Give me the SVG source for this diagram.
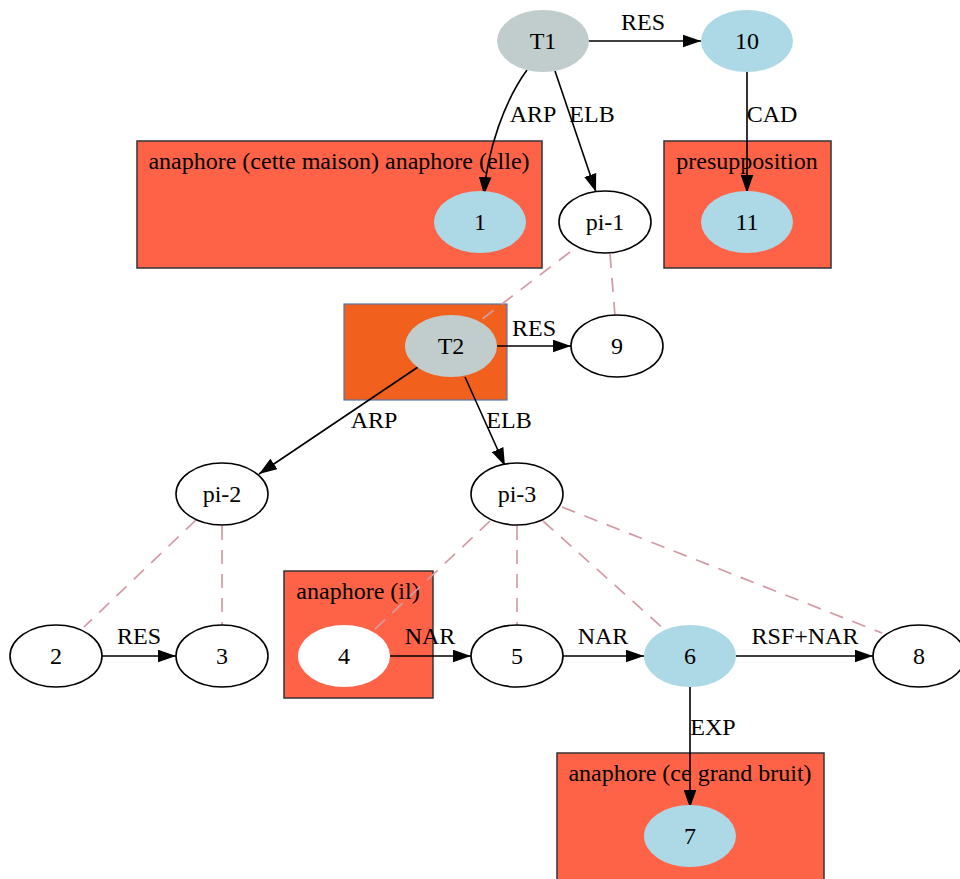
<svg xmlns="http://www.w3.org/2000/svg" width="960" height="879" viewBox="0 0 960 879">
<style>
text{font-family:"Liberation Serif","Times New Roman",serif;font-size:24px;fill:#000;text-anchor:middle}
.cl{fill:#ff6347;stroke:#333;stroke-width:1.5}
.w{fill:#fff;stroke:#000;stroke-width:1.6}
.b{fill:#add8e6;stroke:none}
.g{fill:#c1cdcd;stroke:none}
.e{fill:none;stroke:#000;stroke-width:1.6}
.d{fill:none;stroke:#d49aa4;stroke-width:1.7;stroke-dasharray:14,10}
</style>
<defs>
<marker id="ah" viewBox="0 0 10 7" markerWidth="18" markerHeight="13" markerUnits="userSpaceOnUse" refX="10" refY="3.5" orient="auto">
<path d="M0,0 L10,3.5 L0,7 z" fill="#000"/>
</marker>
</defs>
<rect width="960" height="879" fill="#fff"/>
<g id="clusters">
<g id="cluster_1"><rect class="cl" x="137" y="141" width="405" height="127"/><text x="339" y="169">anaphore (cette maison) anaphore (elle)</text></g>
<g id="cluster_11"><rect class="cl" x="664" y="141" width="167" height="127"/><text x="747" y="169">presupposition</text></g>
<g id="cluster_T2"><rect x="344" y="304" width="163" height="96" fill="#f2601e" stroke="#5577aa" stroke-width="1.2"/></g>
<g id="cluster_4"><rect class="cl" x="284" y="571" width="149" height="127"/><text x="358" y="599">anaphore (il)</text></g>
<g id="cluster_7"><rect class="cl" x="557" y="753" width="267" height="130"/><text x="690" y="781">anaphore (ce grand bruit)</text></g>
</g>
<g id="connectors">
<path class="d" d="M570,252 L481,320"/>
<path class="d" d="M610,254 L615,316"/>
<path class="d" d="M196,520 L84,627"/>
<path class="d" d="M222,526 L222,625"/>
<path class="d" d="M490,521 L373,631"/>
<path class="d" d="M517,526 L517,625"/>
<path class="d" d="M543,521 L665,630"/>
<path class="d" d="M562,507 L882,633"/>
<path class="e" marker-end="url(#ah)" d="M588,41 L701,41"/>
<path class="e" marker-end="url(#ah)" d="M527,70 C505,100 487,150 484,195"/>
<path class="e" marker-end="url(#ah)" d="M555,71 L596,192"/>
<path class="e" marker-end="url(#ah)" d="M747,72 L747,193"/>
<path class="e" marker-end="url(#ah)" d="M497,346 L571,346"/>
<path class="e" marker-end="url(#ah)" d="M418,367 L259,474"/>
<path class="e" marker-end="url(#ah)" d="M465,377 L505,466"/>
<path class="e" marker-end="url(#ah)" d="M102,656 L176,656"/>
<path class="e" marker-end="url(#ah)" d="M390,656 L471,656"/>
<path class="e" marker-end="url(#ah)" d="M563,656 L644,656"/>
<path class="e" marker-end="url(#ah)" d="M736,656 L873,656"/>
<path class="e" marker-end="url(#ah)" d="M690,687 L690,808"/>
<text x="643" y="30">RES</text>
<text x="533" y="122">ARP</text>
<text x="592" y="122">ELB</text>
<text x="772" y="122">CAD</text>
<text x="534" y="336">RES</text>
<text x="374" y="428">ARP</text>
<text x="509" y="428">ELB</text>
<text x="139" y="644">RES</text>
<text x="430" y="644">NAR</text>
<text x="603" y="644">NAR</text>
<text x="805" y="644">RSF+NAR</text>
<text x="713" y="735">EXP</text>
</g>
<g id="T1"><ellipse class="g" cx="543" cy="41" rx="46" ry="31"/><text x="543" y="49">T1</text></g>
<g id="n10"><ellipse class="b" cx="747" cy="41" rx="46" ry="31"/><text x="747" y="49">10</text></g>
<g id="n1"><ellipse class="b" cx="480" cy="222" rx="46" ry="31"/><text x="480" y="230">1</text></g>
<g id="pi-1"><ellipse class="w" cx="605" cy="222" rx="46" ry="31"/><text x="605" y="230">pi-1</text></g>
<g id="n11"><ellipse class="b" cx="747" cy="222" rx="46" ry="31"/><text x="747" y="230">11</text></g>
<g id="T2"><ellipse class="g" cx="451" cy="346" rx="46" ry="31"/><text x="451" y="354">T2</text></g>
<g id="n9"><ellipse class="w" cx="617" cy="346" rx="46" ry="31"/><text x="617" y="354">9</text></g>
<g id="pi-2"><ellipse class="w" cx="222" cy="494" rx="46" ry="31"/><text x="222" y="502">pi-2</text></g>
<g id="pi-3"><ellipse class="w" cx="517" cy="494" rx="46" ry="31"/><text x="517" y="502">pi-3</text></g>
<g id="n2"><ellipse class="w" cx="56" cy="656" rx="46" ry="31"/><text x="56" y="664">2</text></g>
<g id="n3"><ellipse class="w" cx="222" cy="656" rx="46" ry="31"/><text x="222" y="664">3</text></g>
<g id="n4"><ellipse fill="#fff" cx="344" cy="656" rx="46" ry="31"/><text x="344" y="664">4</text></g>
<g id="n5"><ellipse class="w" cx="517" cy="656" rx="46" ry="31"/><text x="517" y="664">5</text></g>
<g id="n6"><ellipse class="b" cx="690" cy="656" rx="46" ry="31"/><text x="690" y="664">6</text></g>
<g id="n8"><ellipse class="w" cx="919" cy="656" rx="46" ry="31"/><text x="919" y="664">8</text></g>
<g id="n7"><ellipse class="b" cx="690" cy="836" rx="46" ry="31"/><text x="690" y="844">7</text></g>
</svg>
